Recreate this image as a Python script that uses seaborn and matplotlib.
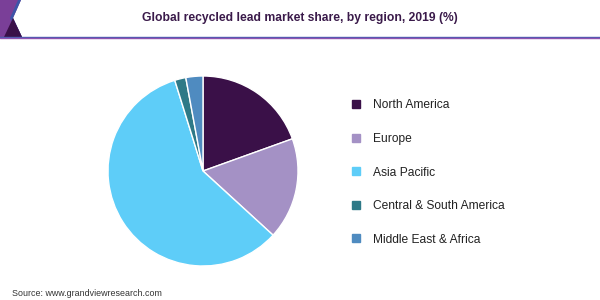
import matplotlib
matplotlib.use("Agg")
import matplotlib.pyplot as plt
import seaborn as sns
from matplotlib.patches import Polygon
from matplotlib.lines import Line2D
import numpy as np

regions = ["North America", "Europe", "Asia Pacific",
           "Central & South America", "Middle East & Africa"]
shares = [19.5, 17.3, 58.4, 1.9, 2.9]
colors = ["#3a1048", "#a491c5", "#5ecdf8", "#2e7987", "#4f8bc0"]
title = "Global recycled lead market share, by region, 2019 (%)"
source = "Source: www.grandviewresearch.com"

sns.set_theme(style="white")
plt.rcParams['font.family'] = ['Liberation Sans', 'DejaVu Sans']

fig = plt.figure(figsize=(6, 3), dpi=100)
fig.patch.set_facecolor("white")

W, H = 600, 300
def fx(x): return x / W
def fy(y): return 1 - y / H

# header decorations
fig.patches.append(Polygon([(fx(0), fy(0)), (fx(21), fy(0)), (fx(13), fy(18)),
                            (fx(22), fy(37)), (fx(0), fy(37))],
                           closed=True, transform=fig.transFigure,
                           facecolor="#7a3f98", edgecolor="none"))
fig.patches.append(Polygon([(fx(18), fy(0)), (fx(21), fy(0)), (fx(13), fy(18)),
                            (fx(22), fy(37)), (fx(19), fy(37)), (fx(10), fy(18))],
                           closed=True, transform=fig.transFigure,
                           facecolor="#3d55a8", edgecolor="none"))
fig.patches.append(Polygon([(fx(4), fy(37)), (fx(13), fy(18)), (fx(22), fy(37))],
                           closed=True, transform=fig.transFigure,
                           facecolor="#3a1048", edgecolor="none"))
fig.add_artist(Line2D([fx(0), fx(600)], [fy(37), fy(37)], transform=fig.transFigure,
                      color="#4a5bb0", lw=1.0))
fig.add_artist(Line2D([fx(0), fx(600)], [fy(38.2), fy(38.2)], transform=fig.transFigure,
                      color="#8e52b0", lw=1.0))

fig.text(0.5, fy(18), title, ha="center", va="center", fontsize=8.7,
         fontweight="bold", color="#3a1a4a")
fig.text(fx(12), fy(294), source, ha="left", va="center", fontsize=6.4, color="#333333")

# pie
cx, cy, r = 203, 171, 95
ax = fig.add_axes([fx(cx - r), fy(cy + r), 2 * r / W, 2 * r / H])
pal = sns.color_palette(colors)
wedges, _ = ax.pie(shares, colors=pal, startangle=90, counterclock=False,
                   wedgeprops=dict(edgecolor="white", linewidth=1.0))
ax.set_xlim(-1, 1)
ax.set_ylim(-1, 1)
ax.set_axis_off()

handles = [Line2D([0], [0], marker="s", linestyle="none", markersize=5.2,
                  markerfacecolor=c, markeredgecolor=c) for c in pal]
fig.legend(handles, regions, loc="upper left",
           bbox_to_anchor=(fx(351), fy(99.5)), frameon=False, fontsize=8.65,
           labelspacing=1.79, handlelength=0.8, handletextpad=1.0,
           borderpad=0, borderaxespad=0, labelcolor="#222222")

fig.savefig("out.png", dpi=100, facecolor="white")
